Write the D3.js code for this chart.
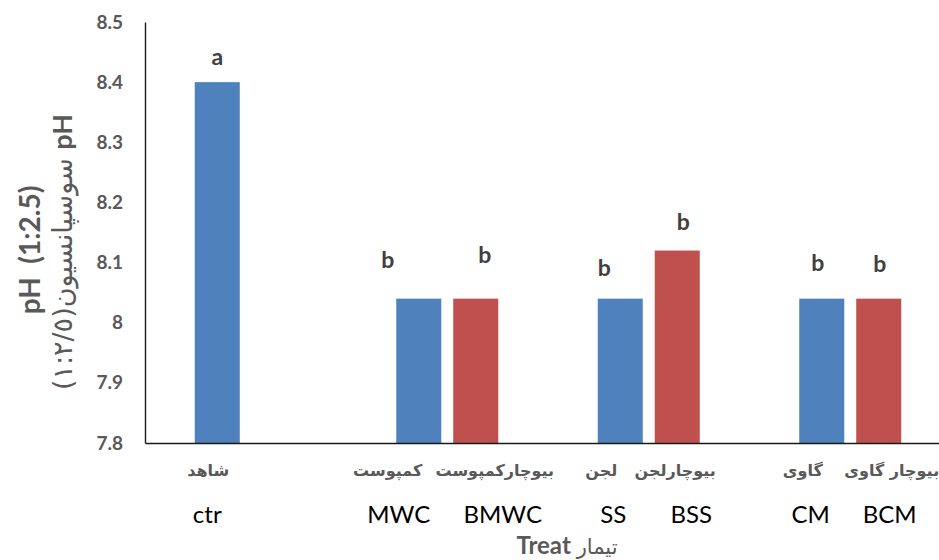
<!DOCTYPE html>
<html><head><meta charset="utf-8">
<script src="https://cdn.jsdelivr.net/npm/d3@7"></script>
<style>
html,body{margin:0;padding:0;background:#fff;}
svg{display:block;}
</style></head>
<body>
<svg id="chart" width="939" height="560"></svg>
<script>
// ---- data ----
const groups = ["G1", "G2", "G3", "G4"];
const seriesNames = ["plain", "biochar"];
const categories = ["ctr", "MWC", "BMWC", "SS", "BSS", "CM", "BCM"];
const categoriesFa = ["شاهد", "کمپوست", "بیوچارکمپوست", "لجن", "بیوچارلجن", "گاوی", "بیوچار گاوی"];
const groupOf = ["G1", "G2", "G2", "G3", "G3", "G4", "G4"];
const seriesOf = ["plain", "plain", "biochar", "plain", "biochar", "plain", "biochar"];
const phValues = [8.40, 8.04, 8.04, 8.04, 8.12, 8.04, 8.04];
const letters = ["a", "b", "b", "b", "b", "b", "b"];
const yTicks = [7.8, 7.9, 8.0, 8.1, 8.2, 8.3, 8.4, 8.5];
const yDomain = [7.8, 8.5];

// ---- layout (hand placed label nudges, as in the source) ----
const letterDx = [0, -31, 9, -16, 6, -4, 1];
const letterDy = [-25, -39, -44, -31, -29, -36, -35];
const enDx = [-10, -20, 27, -7, 14, -11, 11];
const faDx = [-9, -31, 19, -19, -2, -19, 13];

const colors = {plain: "#4F81BD", biochar: "#C0504D"};
const M = {left: 145, right: 951, top: 22, bottom: 443};

const svg = d3.select("#chart");

const x0 = d3.scaleBand().domain(groups).range([M.left, M.right]).paddingInner(0).paddingOuter(0);
const x1 = d3.scaleBand().domain(seriesNames).range([0, x0.bandwidth()]).paddingInner(0.21).paddingOuter(0.873);
const y = d3.scaleLinear().domain(yDomain).range([M.bottom, M.top]);

const bars = categories.map((c, i) => ({
  code: c, fa: categoriesFa[i], g: groupOf[i], s: seriesOf[i], v: phValues[i], letter: letters[i], i
}));
const cx = d => x0(d.g) + x1(d.s) + x1.bandwidth() / 2;

// bars
svg.append("g").selectAll("rect").data(bars).join("rect")
  .attr("x", d => x0(d.g) + x1(d.s))
  .attr("width", x1.bandwidth())
  .attr("y", d => y(d.v))
  .attr("height", d => y(yDomain[0]) - y(d.v))
  .attr("fill", d => colors[d.s]);

// y axis
const yAxis = d3.axisLeft(y).tickValues(yTicks).tickSize(0).tickPadding(22)
  .tickFormat(d => String(+d.toFixed(1)));
const ga = svg.append("g").attr("transform", `translate(${M.left},0)`).call(yAxis);
ga.select(".domain").attr("stroke", "#1a1a1a").attr("stroke-width", 1.4);
ga.selectAll("text").attr("font-family", "Lato, 'Open Sans', sans-serif")
  .attr("font-size", 19).attr("font-weight", 700).attr("fill", "#595959");

// x axis line
const xAxis = d3.axisBottom(x0).tickSize(0).tickFormat("");
const gx = svg.append("g").attr("transform", `translate(0,${M.bottom})`).call(xAxis);
gx.select(".domain").attr("stroke", "#1a1a1a").attr("stroke-width", 1.4);

// significance letters
svg.append("g").selectAll("text").data(bars).join("text")
  .attr("x", d => cx(d) + letterDx[d.i])
  .attr("y", d => y(d.v) + letterDy[d.i])
  .attr("dy", "0.35em")
  .attr("text-anchor", "middle")
  .attr("font-family", "Lato, sans-serif").attr("font-weight", 700)
  .attr("font-size", 23).attr("fill", "#404040")
  .text(d => d.letter);

// Persian category labels
svg.append("g").selectAll("text").data(bars).join("text")
  .attr("x", d => cx(d) + faDx[d.i])
  .attr("y", 470).attr("dy", "0.35em")
  .attr("text-anchor", "middle")
  .attr("font-family", "'DejaVu Sans', sans-serif").attr("font-weight", 700)
  .attr("font-size", 16).attr("fill", "#595959")
  .text(d => d.fa);

// English category labels
svg.append("g").selectAll("text").data(bars).join("text")
  .attr("x", d => cx(d) + enDx[d.i])
  .attr("y", 515).attr("dy", "0.35em")
  .attr("text-anchor", "middle")
  .attr("font-family", "Lato, sans-serif")
  .attr("font-size", 24).attr("fill", "#000")
  .text(d => d.code);

// x title
const xt = svg.append("text").attr("x", 567).attr("y", 546).attr("dy", "0.35em")
  .attr("text-anchor", "middle").attr("fill", "#595959").attr("font-size", 24);
xt.append("tspan").attr("font-family", "Lato, sans-serif").attr("font-weight", 700).text("Treat ");
xt.append("tspan").attr("font-family", "'DejaVu Sans', sans-serif").attr("font-size", 21).text("تیمار");

// y title
svg.append("text").attr("transform", "translate(30,250) rotate(-90)")
  .attr("dy", "0.35em").attr("text-anchor", "middle")
  .attr("font-family", "Lato, sans-serif").attr("font-weight", 700)
  .attr("font-size", 28).attr("fill", "#595959")
  .style("white-space", "pre").text("pH  (1:2.5)");
const yt2 = svg.append("text").attr("transform", "translate(63,252) rotate(-90)")
  .attr("dy", "0.35em").attr("text-anchor", "middle")
  .attr("fill", "#595959").attr("font-size", 27);
yt2.append("tspan").attr("font-family", "'DejaVu Sans', sans-serif").text("(۱:۲/٥)سوسپانسیون ");
yt2.append("tspan").attr("font-family", "Lato, sans-serif").attr("font-weight", 700).attr("font-size", 27).text("pH");
</script>
</body></html>
